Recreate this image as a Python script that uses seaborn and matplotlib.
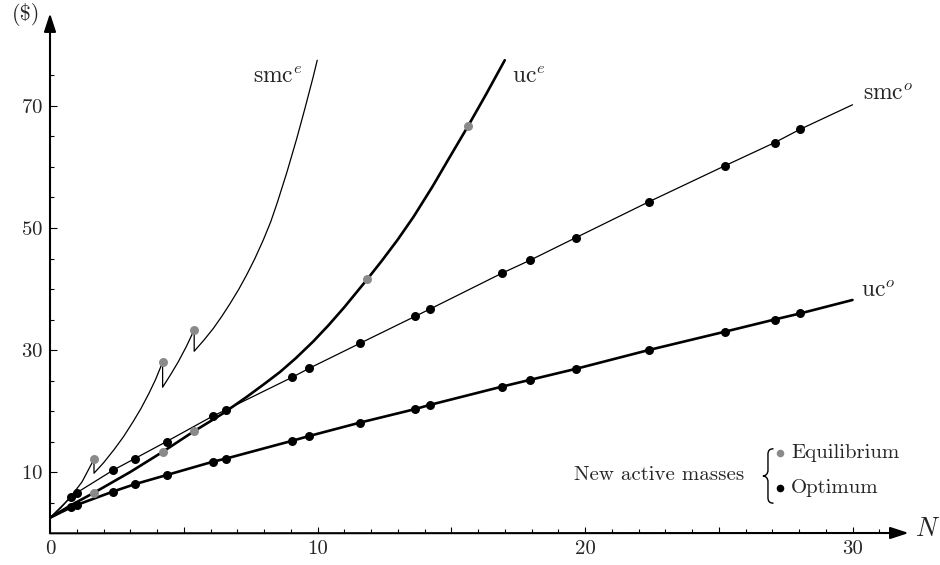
import matplotlib
matplotlib.use("Agg")
import matplotlib.pyplot as plt
from matplotlib.path import Path
from matplotlib.patches import PathPatch
import seaborn as sns

sns.set_style("white")
plt.rcParams.update({
    "font.family": ["cmr10", "DejaVu Serif"],
    "mathtext.fontset": "cm",
    "axes.formatter.use_mathtext": True,
})

# N where a new mass becomes active at the optimum
n_opt = [0.785, 1.0, 2.36, 3.17, 4.36, 6.1, 6.58, 9.04, 9.69, 11.59, 13.64,
         14.2, 16.9, 17.94, 19.65, 22.39, 25.23, 27.09, 28.05]
smc_opt_pts = [5.9, 6.6, 10.3, 12.2, 15.0, 19.2, 20.2, 25.5, 27.0, 31.1, 35.5,
               36.7, 42.6, 44.7, 48.4, 54.3, 60.2, 64.0, 66.2]
uc_opt_pts = [4.2, 4.6, 6.8, 8.0, 9.5, 11.7, 12.2, 15.1, 15.9, 18.1, 20.3,
              21.0, 24.0, 25.1, 26.9, 30.0, 33.0, 35.0, 36.0]

# optimum curves (start, points, end)
smc_o_x = [0] + n_opt + [30]
smc_o_y = [2.5] + smc_opt_pts + [70.2]
uc_o_x = [0] + n_opt + [30]
uc_o_y = [2.5] + uc_opt_pts + [38.2]

# equilibrium curves
uc_e_x = [0, 0.8, 1.645, 3.0, 4.21, 5.39, 6.1, 6.5, 7.35, 8.0, 8.6, 9.2, 9.84,
          10.4, 11.0, 11.86, 12.4, 13.0, 13.6, 14.3, 14.9, 15.64, 16.3, 17.0]
uc_e_y = [2.5, 4.6, 6.6, 10.0, 13.3, 16.7, 18.6, 19.7, 22.3, 24.4, 26.4, 28.7,
          31.4, 34.0, 37.0, 41.6, 44.6, 48.1, 51.9, 56.8, 61.3, 66.8, 71.9, 77.5]
smc_e_x = [0, 0.4, 0.785, 1.2, 1.645,
           1.645, 2.0, 2.4, 2.75, 3.1, 3.4, 3.7, 3.95, 4.21,
           4.21, 4.5, 4.8, 5.1, 5.39,
           5.39, 5.75, 6.1, 6.42, 6.73, 7.05, 7.35, 7.66, 7.97, 8.25, 8.5,
           8.86, 9.22, 9.53, 9.84, 9.99]
smc_e_y = [2.5, 4.1, 6.0, 8.4, 12.1,
           9.8, 11.5, 13.7, 15.8, 18.2, 20.4, 22.9, 25.2, 28.0,
           23.9, 25.9, 28.1, 30.6, 33.3,
           29.8, 31.6, 33.5, 35.5, 37.6, 39.9, 42.3, 45.0, 48.0, 51.0, 54.2,
           59.2, 64.6, 69.6, 74.8, 77.5]

# N where a new mass becomes active at equilibrium
n_eq_smc = [1.645, 4.21, 5.39]
smc_eq_pts = [12.1, 28.0, 33.3]
n_eq_uc = [1.645, 4.21, 5.39, 11.86, 15.64]
uc_eq_pts = [6.6, 13.3, 16.7, 41.6, 66.8]

GRAY = "#8a8a8a"

fig = plt.figure(figsize=(9.4, 5.65), dpi=100)
ax = fig.add_axes([50 / 940, 32 / 565, 882.75 / 940, 524.6 / 565])
ax.set_xlim(0, 33)
ax.set_ylim(0, 86)

line_kw = dict(ax=ax, color="black", sort=False, estimator=None, legend=False)
sns.lineplot(x=smc_o_x, y=smc_o_y, lw=0.9, **line_kw)
sns.lineplot(x=uc_o_x, y=uc_o_y, lw=1.9, **line_kw)
sns.lineplot(x=uc_e_x, y=uc_e_y, lw=1.9, **line_kw)
sns.lineplot(x=smc_e_x, y=smc_e_y, lw=0.9, **line_kw)

dot_kw = dict(ax=ax, s=42, linewidth=0, zorder=5, legend=False)
sns.scatterplot(x=n_opt, y=smc_opt_pts, color="black", **dot_kw)
sns.scatterplot(x=n_opt, y=uc_opt_pts, color="black", **dot_kw)
sns.scatterplot(x=n_eq_smc, y=smc_eq_pts, color=GRAY, **dot_kw)
sns.scatterplot(x=n_eq_uc, y=uc_eq_pts, color=GRAY, **dot_kw)

# axes as arrows
for sp in ax.spines.values():
    sp.set_visible(False)
arrow = dict(arrowstyle="-|>,head_length=1.1,head_width=0.36", lw=1.5,
             color="black", shrinkA=0, shrinkB=0)
ax.annotate("", xy=(32.1, 0), xytext=(0, -0.05), arrowprops=arrow,
            annotation_clip=False)
ax.annotate("", xy=(0, 85.2), xytext=(0, 0), arrowprops=arrow,
            annotation_clip=False)

ax.set_xticks([0, 5, 10, 15, 20, 25, 30])
ax.set_xticklabels(["0", "", "10", "", "20", "", "30"])
ax.set_xticks([i for i in range(1, 32) if i % 5], minor=True)
ax.set_yticks([10, 30, 50, 70])
ax.set_yticks([v for v in range(5, 80, 5) if v not in (10, 30, 50, 70)], minor=True)
ax.tick_params(which="both", direction="in", width=0.8, color="black",
               labelsize=15, pad=5, bottom=True, left=True)
ax.tick_params(axis="x", which="major", length=4.5)
ax.tick_params(axis="x", which="minor", length=2.8)
ax.tick_params(axis="y", which="major", length=5)
ax.tick_params(axis="y", which="minor", length=2.8)
ax.set_xlabel("")
ax.set_ylabel("")

# curve labels
ax.text(8.5, 74.8, r"smc$^e$", fontsize=17, ha="center", va="center")
ax.text(17.9, 74.8, r"uc$^e$", fontsize=17, ha="center", va="center")
ax.text(30.4, 72.0, r"smc$^o$", fontsize=17, ha="left", va="center")
ax.text(30.3, 39.7, r"uc$^o$", fontsize=17, ha="left", va="center")
ax.text(32.35, 0.6, r"$N$", fontsize=19, ha="left", va="center", clip_on=False)
fig.text(26 / 940, 1 - 15 / 565, r"(\$)", fontsize=16, ha="center", va="center")

# legend for new active masses, with a thin curly brace
ax.text(19.6, 9.5, "New active masses", fontsize=15, ha="left", va="center")
bx, tip, right = 26.84, 26.65, 27.03
brace = Path(
    [(right, 13.8), (bx + 0.06, 13.8), (bx, 13.5), (bx, 12.9),
     (bx, 10.3),
     (bx, 9.7), (tip + 0.1, 9.35), (tip, 9.35),
     (tip + 0.1, 9.35), (bx, 9.0), (bx, 8.4),
     (bx, 5.8),
     (bx, 5.2), (bx + 0.06, 4.9), (right, 4.9)],
    [Path.MOVETO, Path.CURVE4, Path.CURVE4, Path.CURVE4,
     Path.LINETO,
     Path.CURVE4, Path.CURVE4, Path.CURVE4,
     Path.CURVE4, Path.CURVE4, Path.CURVE4,
     Path.LINETO,
     Path.CURVE4, Path.CURVE4, Path.CURVE4])
ax.add_patch(PathPatch(brace, facecolor="none", edgecolor="black", lw=1.0,
                       capstyle="round"))
ax.scatter([27.29], [13.1], s=30, color=GRAY, linewidth=0, clip_on=False)
ax.scatter([27.29], [7.4], s=30, color="black", linewidth=0, clip_on=False)
ax.text(27.7, 13.1, "Equilibrium", fontsize=15, ha="left", va="center")
ax.text(27.7, 7.4, "Optimum", fontsize=15, ha="left", va="center")

fig.savefig("out.png", dpi=100)
